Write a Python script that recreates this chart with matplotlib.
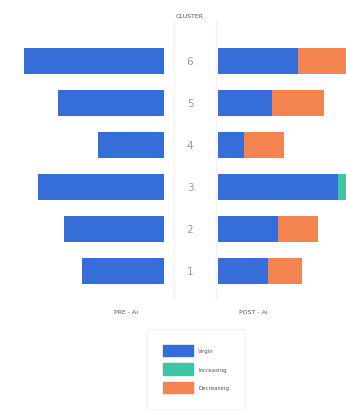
import matplotlib.pyplot as plt
import matplotlib.patches as mpatches

clusters = [1, 2, 3, 4, 5, 6]
pre_virgin = [41, 50, 63, 33, 53, 70]
post_virgin = [25, 30, 60, 13, 27, 40]
post_increasing = [0, 0, 6, 0, 0, 0]
post_decreasing = [17, 20, 0, 20, 26, 32]

series_names = ['Virgin', 'Increasing', 'Decreasing']
colors = ['#356ed8', '#3cc6a6', '#f3834f']

W, H = 346, 414
fig = plt.figure(figsize=(W / 100, H / 100), dpi=100)

def px_axes(x0, y0, x1, y1):
    # axes placed by pixel box (top-left origin)
    return fig.add_axes([x0 / W, 1 - y1 / H, (x1 - x0) / W, (y1 - y0) / H])

ax_l = px_axes(20, 41, 164, 293)
ax_r = px_axes(218, 41, 346, 293)

bar_h = 0.64
ax_l.barh(clusters, pre_virgin, height=bar_h, color=colors[0])
ax_l.set_xlim(72, 0)

left = [0] * len(clusters)
for vals, c in zip([post_virgin, post_increasing, post_decreasing], colors):
    ax_r.barh(clusters, vals, left=left, height=bar_h, color=c)
    left = [a + b for a, b in zip(left, vals)]
ax_r.set_xlim(0, 64)

for ax in (ax_l, ax_r):
    ax.set_ylim(0.5, 6.5)
    ax.axis('off')

# cluster numbers between the two panels
for c in clusters:
    y = 1 - (293 - (c - 0.5) * 42) / H
    fig.text(190 / W, y, str(c), ha='center', va='center', fontsize=7.5, color='#9a9a9a')

# faint separators
for xp in (174, 216):
    fig.add_artist(plt.Line2D([xp / W, xp / W], [1 - 300 / H, 1 - 22 / H],
                              color='#f4f4f4', lw=1))

fig.text(190 / W, 1 - 16 / H, 'CLUSTER', ha='center', va='center', fontsize=4.5, color='#555555')
fig.text(126 / W, 1 - 313 / H, 'PRE - Ai', ha='center', va='center', fontsize=4.5, color='#555555')
fig.text(253 / W, 1 - 313 / H, 'POST - Ai', ha='center', va='center', fontsize=4.5, color='#555555')

handles = [mpatches.Patch(color=c, label=n) for c, n in zip(colors, series_names)]
leg = fig.legend(handles=handles, loc='center', bbox_to_anchor=(196 / W, 1 - 370 / H),
                 fontsize=4, handlelength=5.4, handleheight=2.7, labelspacing=1.35,
                 frameon=True, edgecolor='#f0f0f0', fancybox=False, borderpad=2.9,
                 handletextpad=0.9)
for t in leg.get_texts():
    t.set_color('#555555')

fig.savefig('out.png', dpi=100)
